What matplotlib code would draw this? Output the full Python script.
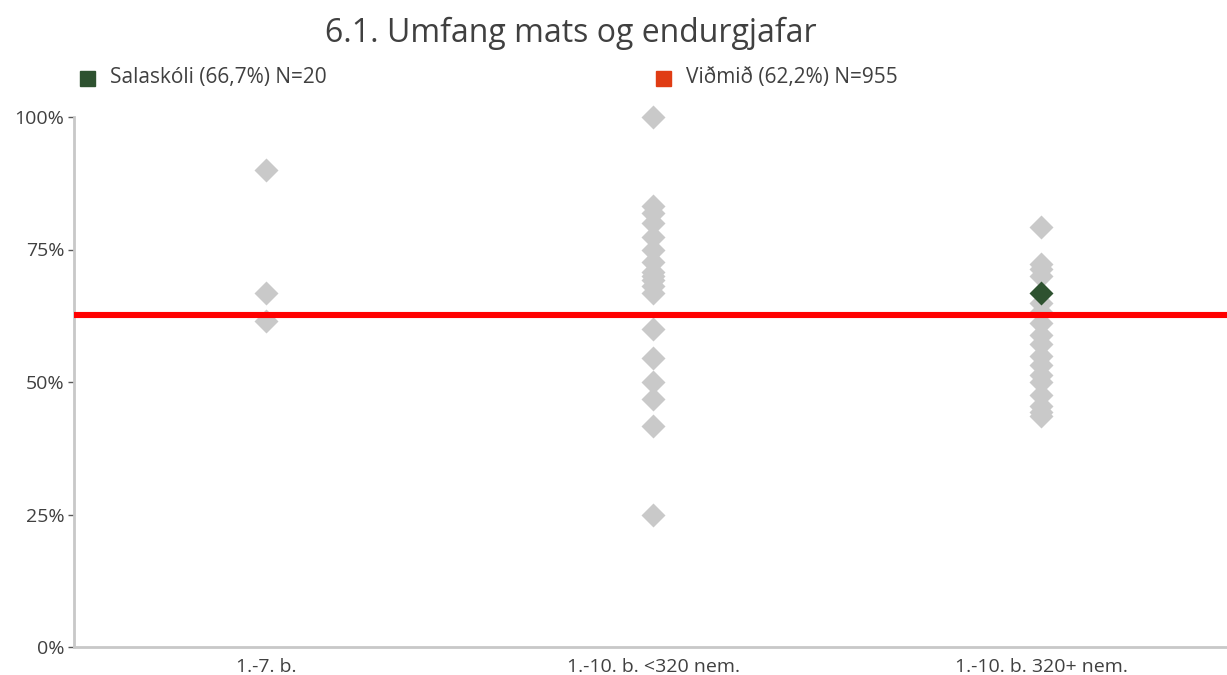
import matplotlib.pyplot as plt

# chart values (percent)
categories = ['1.-7. b.', '1.-10. b. <320 nem.', '1.-10. b. 320+ nem.']
group1 = [90.0, 66.7, 61.5]
group2 = [100.0, 83.3, 81.8, 80.0, 77.3, 75.0, 72.7, 70.8, 70.0, 69.2, 68.2,
          66.7, 60.0, 54.5, 50.0, 46.7, 41.7, 25.0]
group3 = [79.2, 72.2, 71.4, 70.0, 65.0, 63.2, 61.1, 58.8, 57.1, 55.0, 53.3,
          51.4, 50.0, 47.6, 45.5, 44.4, 43.5]
school_group = 2
school_value = 66.7
reference_line = 62.6
yticks = [0, 25, 50, 75, 100]
ytick_labels = ['0%', '25%', '50%', '75%', '100%']
legend_labels = ['Salaskóli (66,7%) N=20', 'Viðmið (62,2%) N=955']

plt.rcParams['font.family'] = ['Open Sans', 'DejaVu Sans']
text_color = '#404040'
grey = '#c9c9c9'
green = '#2e5230'

fig = plt.figure(figsize=(12.27, 6.75), dpi=100)
ax = fig.add_axes([74 / 1227, 28 / 675, 1153 / 1227, 530 / 675])

for i, vals in enumerate([group1, group2, group3]):
    ax.plot([i] * len(vals), vals, linestyle='none', marker='D', ms=12.5,
            color=grey, mec='none', zorder=2, clip_on=False)

ax.axhline(reference_line, color='#ff0000', lw=4.4, zorder=3)
ax.plot([school_group], [school_value], linestyle='none', marker='D', ms=12.5,
        color=green, mec='none', zorder=4, clip_on=False)

ax.set_xlim(-0.495, 2.48)
ax.set_ylim(0, 100)
ax.set_xticks(range(len(categories)))
ax.set_xticklabels(categories)
ax.set_yticks(yticks)
ax.set_yticklabels(ytick_labels)
ax.tick_params(axis='x', length=0, pad=8, labelsize=14, labelcolor=text_color)
ax.tick_params(axis='y', length=4, width=1, color='#595959', pad=3,
               labelsize=14, labelcolor=text_color)

for side in ['top', 'right']:
    ax.spines[side].set_visible(False)
for side in ['left', 'bottom']:
    ax.spines[side].set_color('#c8c8c8')
    ax.spines[side].set_linewidth(2)

fig.text(571 / 1227, 1 - 33 / 675, '6.1. Umfang mats og endurgjafar',
         ha='center', va='center', fontsize=23, color=text_color)

# legend entries
fig.patches.append(plt.Rectangle((80 / 1227, 1 - 86 / 675), 15 / 1227, 15 / 675,
                                 transform=fig.transFigure, color=green))
fig.text(110 / 1227, 1 - 78 / 675, legend_labels[0], ha='left', va='center',
         fontsize=15, color=text_color)
fig.patches.append(plt.Rectangle((656 / 1227, 1 - 86 / 675), 15 / 1227, 15 / 675,
                                 transform=fig.transFigure, color='#e03c14'))
fig.text(686 / 1227, 1 - 78 / 675, legend_labels[1], ha='left', va='center',
         fontsize=15, color=text_color)

fig.savefig('out.png', dpi=100)
